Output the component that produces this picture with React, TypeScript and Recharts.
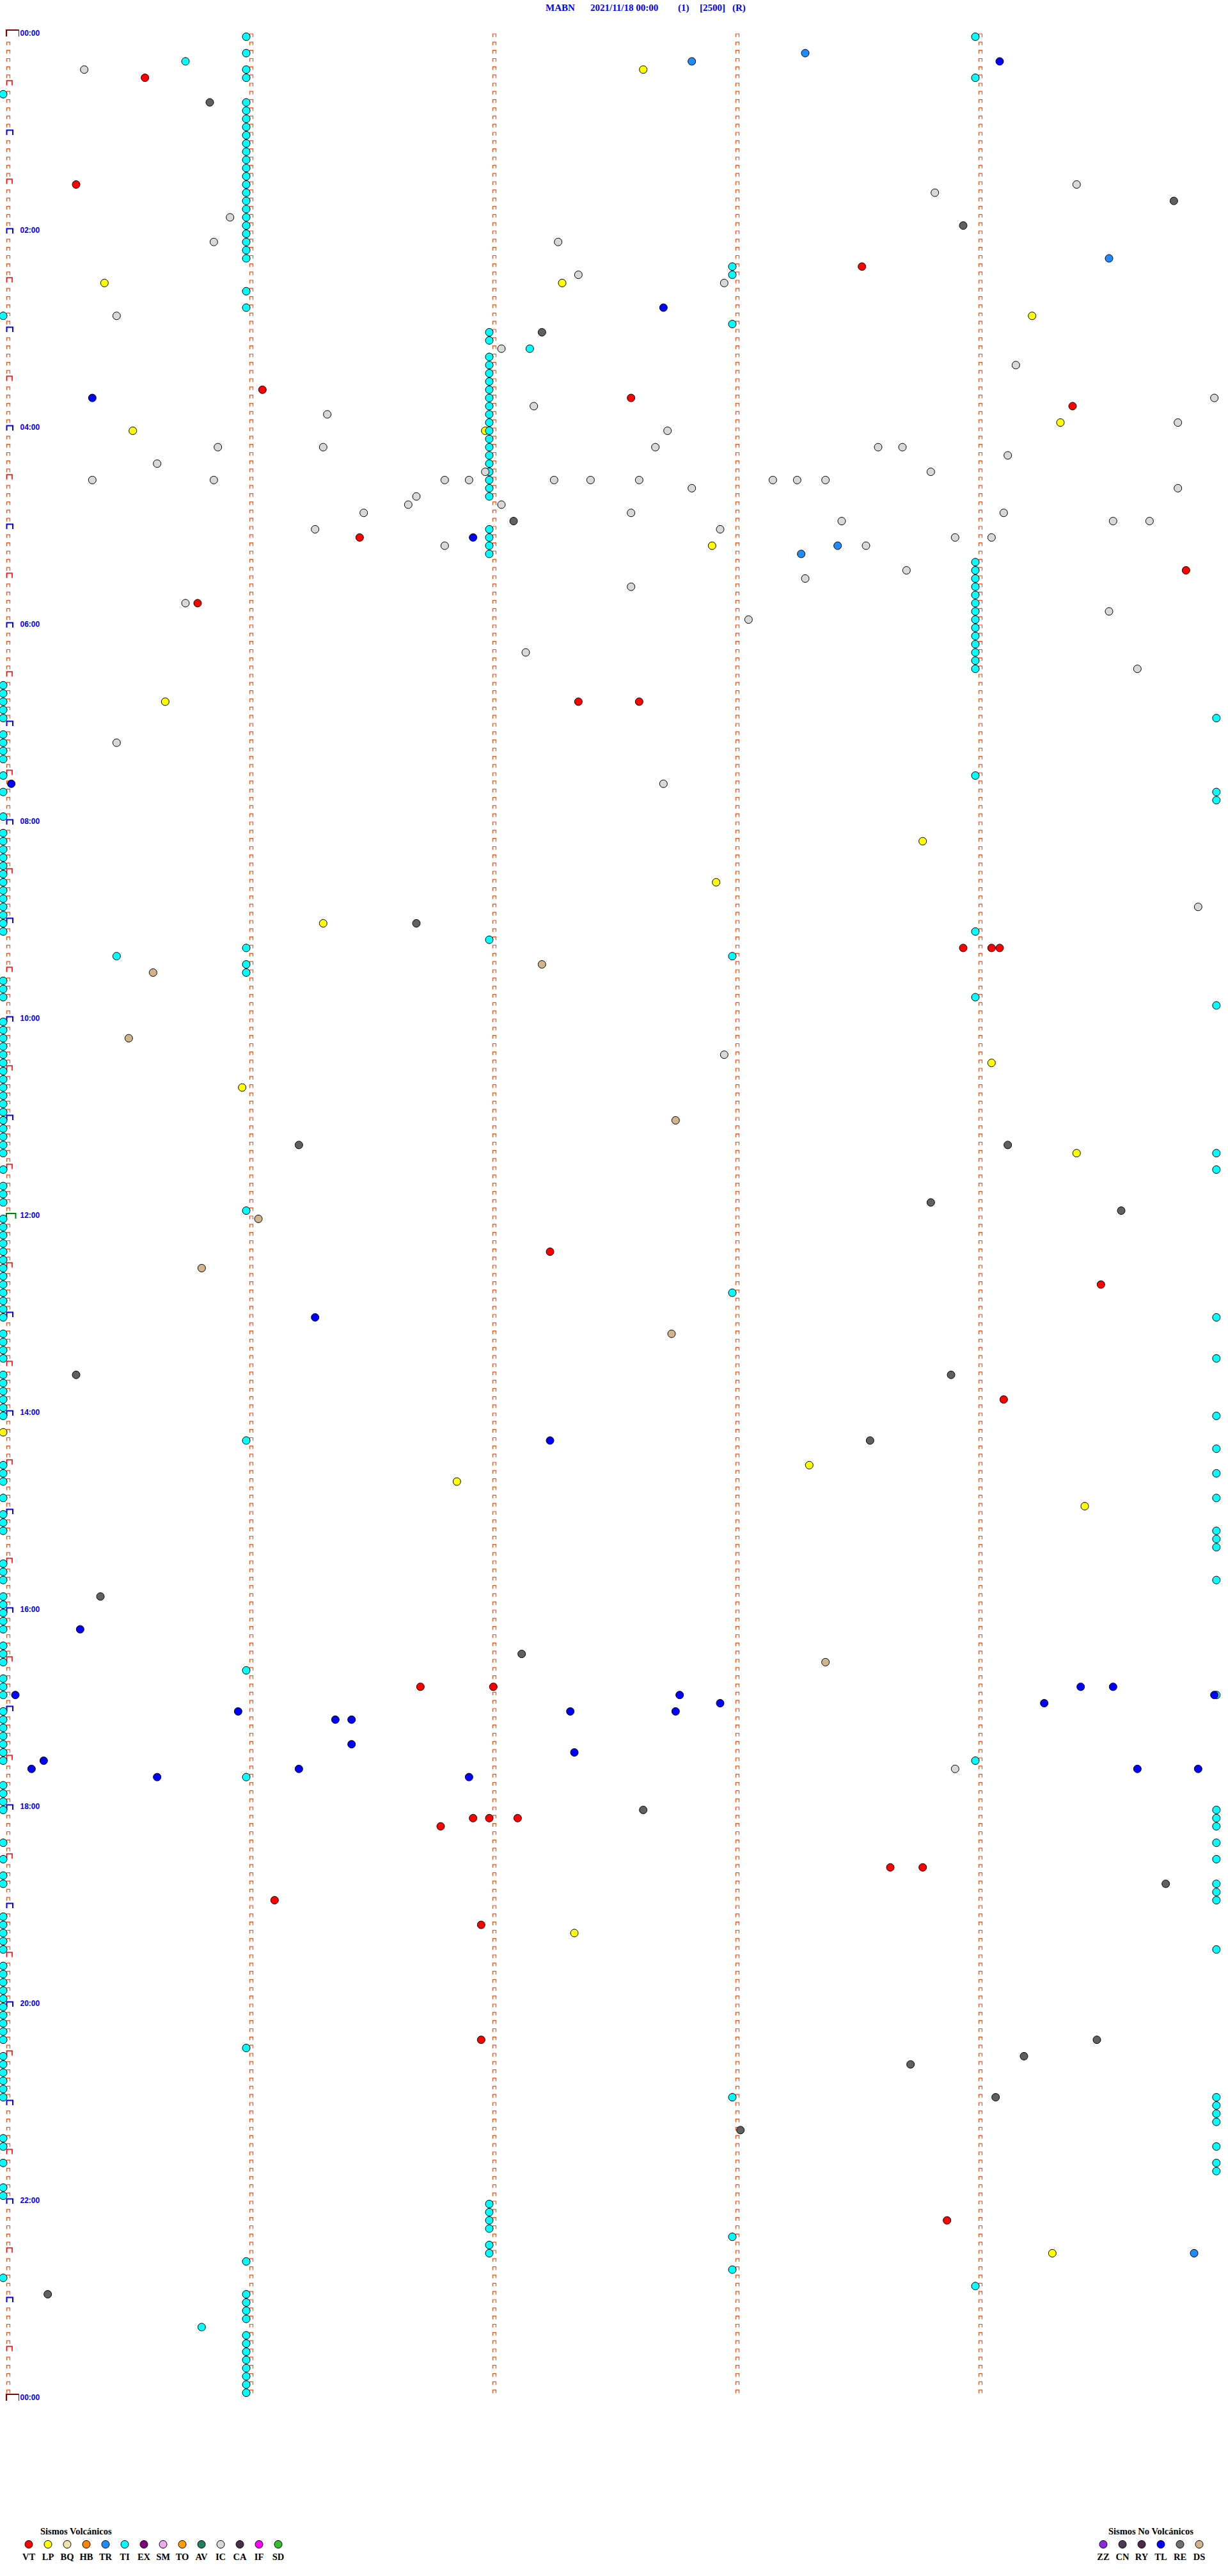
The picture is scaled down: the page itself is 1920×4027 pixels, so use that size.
import { ScatterChart, Scatter, XAxis, YAxis } from "recharts";

// drum record: one row per 5 minutes, x = seconds inside the row
const ROWS = 288;
const ROW_SECONDS = 300;
const MINUTE_LINES = [0, 1, 2, 3, 4];

const hourLabels = [
  "00:00", "02:00", "04:00", "06:00", "08:00", "10:00",
  "12:00", "14:00", "16:00", "18:00", "20:00", "22:00", "00:00",
];

const volcanicCodes = ["VT", "LP", "BQ", "HB", "TR", "TI", "EX", "SM", "TO", "AV", "IC", "CA", "IF", "SD"];
const volcanicColors = [
  "#ff0000", "#ffff00", "#eee3a8", "#ff8400", "#1e8cff", "#00ffff", "#800080",
  "#eeaaee", "#ffa000", "#1f8060", "#d8d8d8", "#4a2f48", "#ff00ff", "#30c030",
];
const otherCodes = ["ZZ", "CN", "RY", "TL", "RE", "DS"];
const otherColors = ["#8a2be2", "#4a3a58", "#4b2b4b", "#0000ff", "#707070", "#d2b48c"];

const vtTimes = [
  "00:25:35", "01:30:18", "02:23:32", "03:36:04", "03:42:35", "03:49:24", "05:06:28",
  "05:29:52", "05:45:48", "06:47:22", "06:47:37", "09:18:57", "09:19:04", "09:19:06",
  "12:22:15", "12:44:31", "13:54:07", "16:46:43", "16:47:01", "18:06:56", "18:07:00",
  "18:07:07", "18:11:48", "18:38:39", "18:38:47", "18:56:07", "19:11:58", "20:21:58",
  "22:13:53",
];

const lpTimes = [
  "00:22:38", "02:30:25", "02:32:18", "02:54:14", "03:59:21", "04:00:32", "04:01:59",
  "05:12:55", "06:45:40", "08:13:47", "08:37:56", "09:01:19", "10:29:04", "10:40:59",
  "11:24:25", "14:10:00", "14:33:19", "14:41:52", "14:59:27", "19:17:21", "22:34:19",
];

const trTimes = ["00:13:18", "00:17:50", "02:19:33", "05:13:26", "05:18:17", "22:34:54"];

const icTimes = [
  "00:20:20", "01:34:25", "01:38:50", "01:50:56", "02:05:52", "02:07:17", "02:27:22",
  "02:32:58", "02:50:28", "03:12:03", "03:24:10", "03:44:59", "03:47:11", "03:51:20",
  "03:59:50", "04:02:44", "04:10:53", "04:11:19", "04:12:41", "04:13:36", "04:13:42",
  "04:19:08", "04:20:38", "04:26:59", "04:28:49", "04:30:22", "04:30:52", "04:31:49",
  "04:31:55", "04:32:16", "04:32:25", "04:32:37", "04:33:10", "04:33:16", "04:33:23",
  "04:37:50", "04:39:50", "04:41:42", "04:46:40", "04:47:03", "04:51:29", "04:52:35",
  "04:54:07", "04:58:27", "04:59:34", "04:59:43", "05:01:17", "05:02:57", "05:08:55",
  "05:09:04", "05:11:49", "05:13:33", "05:28:43", "05:33:18", "05:37:35", "05:45:45",
  "05:54:33", "05:58:04", "06:17:09", "06:29:40", "07:10:28", "07:37:43", "08:54:55",
  "10:22:58", "17:38:55",
];

const tiTimes = [
  // first hours, minute 1 column and scattered
  "00:01:00", "00:04:00", "00:11:00", "00:15:45", "00:21:00", "00:26:00", "00:29:00",
  "00:35:00", "00:41:00", "00:46:00", "00:51:00", "00:56:00", "01:01:00", "01:06:00",
  "01:11:00", "01:16:00", "01:21:00", "01:26:00", "01:31:00", "01:36:00", "01:41:00",
  "01:46:00", "01:51:00", "01:56:00", "02:01:00", "02:06:00", "02:11:00", "02:16:00",
  "02:23:00", "02:28:00", "02:36:00", "02:46:00", "02:50:00", "02:58:00",
  // minute 2 column
  "03:02:00", "03:07:00", "03:12:10", "03:17:00", "03:22:00", "03:27:00", "03:32:00",
  "03:37:00", "03:42:00", "03:47:00", "03:52:00", "03:57:00", "04:02:00", "04:07:00",
  "04:12:00", "04:17:00", "04:22:00", "04:27:00", "04:32:00", "04:37:00", "04:42:00",
  "05:02:00", "05:07:00", "05:12:00", "05:17:00",
  // minute 4 column
  "05:24:00", "05:29:00", "05:34:00", "05:39:00", "05:44:00", "05:49:00", "05:54:00",
  "05:59:00", "06:04:00", "06:09:00", "06:14:00", "06:19:00", "06:24:00", "06:29:00",
  // left edge
  "06:35:00", "06:40:00", "06:45:00", "06:50:00", "06:55:00", "07:05:00", "07:10:00",
  "07:15:00", "07:20:00", "07:30:00", "07:40:00", "07:55:00", "08:05:00", "08:10:00",
  "08:15:00", "08:20:00", "08:25:00", "08:30:00", "08:35:00", "08:40:00", "08:45:00",
  "08:50:00", "08:55:00", "09:00:00", "09:05:00", "09:35:00", "09:40:00", "09:45:00",
  "10:00:00", "10:05:00", "10:10:00", "10:15:00", "10:20:00", "10:25:00", "10:30:00",
  "10:35:00", "10:40:00", "10:45:00", "10:50:00", "10:55:00", "11:00:00", "11:05:00",
  "11:10:00", "11:15:00", "11:20:00", "11:30:00", "11:40:00", "11:45:00", "11:50:00",
  "12:00:00", "12:05:00", "12:10:00", "12:15:00", "12:20:00", "12:25:00", "12:30:00",
  "12:35:00", "12:40:00", "12:45:00", "12:50:00", "12:55:00", "13:00:00", "13:10:00",
  "13:15:00", "13:20:00", "13:25:00", "13:35:00", "13:40:00", "13:45:00", "13:50:00",
  "13:55:00", "14:00:00", "14:30:00", "14:35:00", "14:40:00", "14:50:00", "15:00:00",
  "15:05:00", "15:10:00", "15:30:00", "15:35:00", "15:40:00", "15:50:00", "15:55:00",
  "16:00:00", "16:05:00", "16:10:00", "16:20:00", "16:25:00", "16:30:00", "16:40:00",
  "16:45:00", "16:50:00", "17:00:00", "17:05:00", "17:10:00", "17:15:00", "17:20:00",
  "17:25:00", "17:30:00", "17:45:00", "17:50:00", "17:55:00", "18:00:00", "18:20:00",
  "18:30:00", "18:40:00", "18:45:00", "19:05:00", "19:10:00", "19:15:00", "19:20:00",
  "19:25:00", "19:35:00", "19:40:00", "19:45:00", "19:50:00", "19:55:00", "20:00:00",
  "20:05:00", "20:10:00", "20:15:00", "20:20:00", "20:30:00", "20:35:00", "20:40:00",
  "20:45:00", "20:50:00", "20:55:00", "21:20:00", "21:25:00", "21:35:00", "21:50:00",
  "21:55:00", "22:45:00",
  // right edge
  "06:59:59.5", "07:44:59.5", "07:49:59.5", "09:54:59.5", "11:24:59.5", "11:34:59.5",
  "13:04:59.5", "13:29:59.5", "14:04:59.5", "14:24:59.5", "14:39:59.5", "14:54:59.5",
  "15:14:59.5", "15:19:59.5", "15:24:59.5", "15:44:59.5", "16:54:59.5", "18:04:59.5",
  "18:09:59.5", "18:14:59.5", "18:24:59.5", "18:34:59.5", "18:49:59.5", "18:54:59.5",
  "18:59:59.5", "19:29:59.5", "20:59:59.5", "21:04:59.5", "21:09:59.5", "21:14:59.5",
  "21:29:59.5", "21:39:59.5", "21:44:59.5",
  // scattered through the day
  "07:34:00", "09:09:00", "09:12:00", "09:16:00", "09:20:28", "09:23:00", "09:26:00",
  "09:31:00", "09:49:00", "11:56:00", "12:48:00", "14:16:00", "16:36:00", "17:34:00",
  "17:41:00", "20:26:00", "20:58:00", "22:02:00", "22:07:00", "22:12:00", "22:17:00",
  "22:23:00", "22:27:00", "22:32:00", "22:36:00", "22:43:00", "22:54:00", "22:56:00",
  "23:01:00", "23:06:00", "23:11:00", "23:15:49", "23:21:00", "23:26:00", "23:31:00",
  "23:36:00", "23:41:00", "23:46:00", "23:51:00", "23:56:00",
];

const reTimes = [
  "00:40:51", "01:44:49", "01:58:57", "03:02:13", "04:57:06", "09:01:42", "11:16:13",
  "11:19:08", "11:53:49", "11:59:36", "13:35:18", "13:38:54", "14:18:34", "15:50:24",
  "16:27:08", "18:02:38", "18:49:47", "20:24:30", "20:34:12", "20:38:44", "20:59:05",
  "21:18:02", "22:55:11",
];

const tlTimes = [
  "00:19:06", "02:47:43", "03:40:22", "05:06:56", "07:35:02", "13:01:17", "14:17:15",
  "16:10:19", "16:49:26", "16:49:34", "16:50:03", "16:52:47", "16:54:59", "16:57:57",
  "16:59:17", "17:00:58", "17:02:20", "17:02:46", "17:06:22", "17:06:26", "17:21:26",
  "17:27:21", "17:30:10", "17:35:07", "17:36:13", "17:39:40", "17:39:55", "17:40:38",
  "17:41:55",
];

const dsTimes = [
  "09:27:13", "09:30:37", "10:10:31", "11:02:46", "12:01:03", "12:30:49", "13:12:45", "16:33:23",
];

const toPoint = (t: string) => {
  const [h, m, s] = t.split(":").map(parseFloat);
  const secs = h * 3600 + m * 60 + s;
  const row = Math.floor(secs / ROW_SECONDS);
  return { x: secs - row * ROW_SECONDS, y: row + 0.5 };
};

const series = [
  { name: "LP", color: volcanicColors[1], times: lpTimes },
  { name: "TI", color: volcanicColors[5], times: tiTimes },
  { name: "IC", color: volcanicColors[10], times: icTimes },
  { name: "TR", color: volcanicColors[4], times: trTimes },
  { name: "VT", color: volcanicColors[0], times: vtTimes },
  { name: "RE", color: "#606060", times: reTimes },
  { name: "DS", color: otherColors[5], times: dsTimes },
  { name: "TL", color: otherColors[3], times: tlTimes },
];

// minute marks down every column, one per row
const gridMarks: { x: number; y: number; row: number; minute: number }[] = [];
MINUTE_LINES.forEach((m) => {
  const last = m === 0 ? ROWS : ROWS - 1;
  for (let r = 0; r <= last; r++) gridMarks.push({ x: m * 60, y: r, row: r, minute: m });
});

const labelStyle = {
  fontFamily: "'Liberation Sans', Arial, sans-serif",
  fontWeight: 700,
  fontSize: 12,
  fill: "#0000ff",
};

function GridMark(props: any) {
  const { cx, cy, payload } = props;
  const lx = cx + 8;
  const r = payload.row;
  if (payload.minute === 0) {
    const label = r % 24 === 0 ? hourLabels[r / 24] : null;
    const text = label ? (
      <text x={lx + 18.5} y={cy + 0.5} dominantBaseline="central" {...labelStyle}>
        {label}
      </text>
    ) : null;
    if (r === 0 || r === ROWS) {
      return (
        <g>
          <path d={`M${lx - 3} ${cy + 6} V${cy - 4} H${lx + 16.5}`} stroke="#8b0000" strokeWidth={2.2} fill="none" />
          <path d={`M${lx + 16.5} ${cy - 4} V${cy + 6}`} stroke="#8b0000" strokeWidth={1} fill="none" />
          {text}
        </g>
      );
    }
    if (r === 144) {
      return (
        <g>
          <path d={`M${lx - 3} ${cy + 6} V${cy - 2} H${lx + 11.5} V${cy + 6}`} stroke="#008000" strokeWidth={2} fill="none" />
          {text}
        </g>
      );
    }
    if (r % 12 === 0) {
      return (
        <g>
          <path d={`M${lx - 2.5} ${cy + 6} V${cy - 1.5} H${lx + 7} V${cy + 6}`} stroke="#0000ff" strokeWidth={2} fill="none" />
          {text}
        </g>
      );
    }
    if (r % 6 === 0) {
      return (
        <path d={`M${lx - 2.5} ${cy + 5.5} V${cy - 2} H${lx + 6} V${cy + 5.5}`} stroke="#ff0000" strokeWidth={1.6} fill="none" />
      );
    }
  }
  return (
    <path d={`M${lx - 2.5} ${cy + 7} V${cy + 2} H${lx + 2.5} V${cy + 7}`} stroke="#ff4a10" strokeWidth={1.2} fill="none" />
  );
}

const dot = (color: string) => (props: any) =>
  <circle cx={props.cx} cy={props.cy} r={6} fill={color} stroke="#000" strokeWidth={1} />;

const serif = "'Liberation Serif', 'Times New Roman', serif";

export default function App() {
  return (
    <div style={{ position: "relative", width: 1920, height: 4027, background: "#fff" }}>
      <style>{"body{margin:0}"}</style>
      <ScatterChart width={1920} height={4027} margin={{ top: 51, right: 15, left: 5, bottom: 280 }}>
        <XAxis type="number" dataKey="x" domain={[0, ROW_SECONDS]} hide />
        <YAxis type="number" dataKey="y" domain={[0, ROWS]} reversed hide />
        <Scatter data={gridMarks} shape={GridMark} isAnimationActive={false} />
        {series.map((s) => (
          <Scatter
            key={s.name}
            name={s.name}
            data={s.times.map(toPoint)}
            shape={dot(s.color)}
            isAnimationActive={false}
          />
        ))}
      </ScatterChart>
      <svg width={1920} height={4027} style={{ position: "absolute", left: 0, top: 0, pointerEvents: "none" }}>
        <g fontFamily={serif} fontWeight={700} fontSize={15} fill="#0000ff">
          <text x={853} y={17}>MABN</text>
          <text x={923} y={17}>2021/11/18 00:00</text>
          <text x={1060} y={17}>(1)</text>
          <text x={1094} y={17}>[2500]</text>
          <text x={1145} y={17}>(R)</text>
        </g>
        <g fontFamily={serif} fontWeight={700} fontSize={14.5} fill="#000">
          <text x={63} y={3962}>Sismos Volcánicos</text>
          {volcanicCodes.map((c, i) => (
            <g key={c}>
              <circle cx={45 + i * 30} cy={3977.5} r={6} fill={volcanicColors[i]} stroke="#000" />
              <text x={45 + i * 30} y={4002} textAnchor="middle">{c}</text>
            </g>
          ))}
          <text x={1733} y={3962}>Sismos No Volcánicos</text>
          {otherCodes.map((c, i) => (
            <g key={c}>
              <circle cx={1725 + i * 30} cy={3977.5} r={6} fill={otherColors[i]} stroke="#000" />
              <text x={1725 + i * 30} y={4002} textAnchor="middle">{c}</text>
            </g>
          ))}
        </g>
      </svg>
    </div>
  );
}
